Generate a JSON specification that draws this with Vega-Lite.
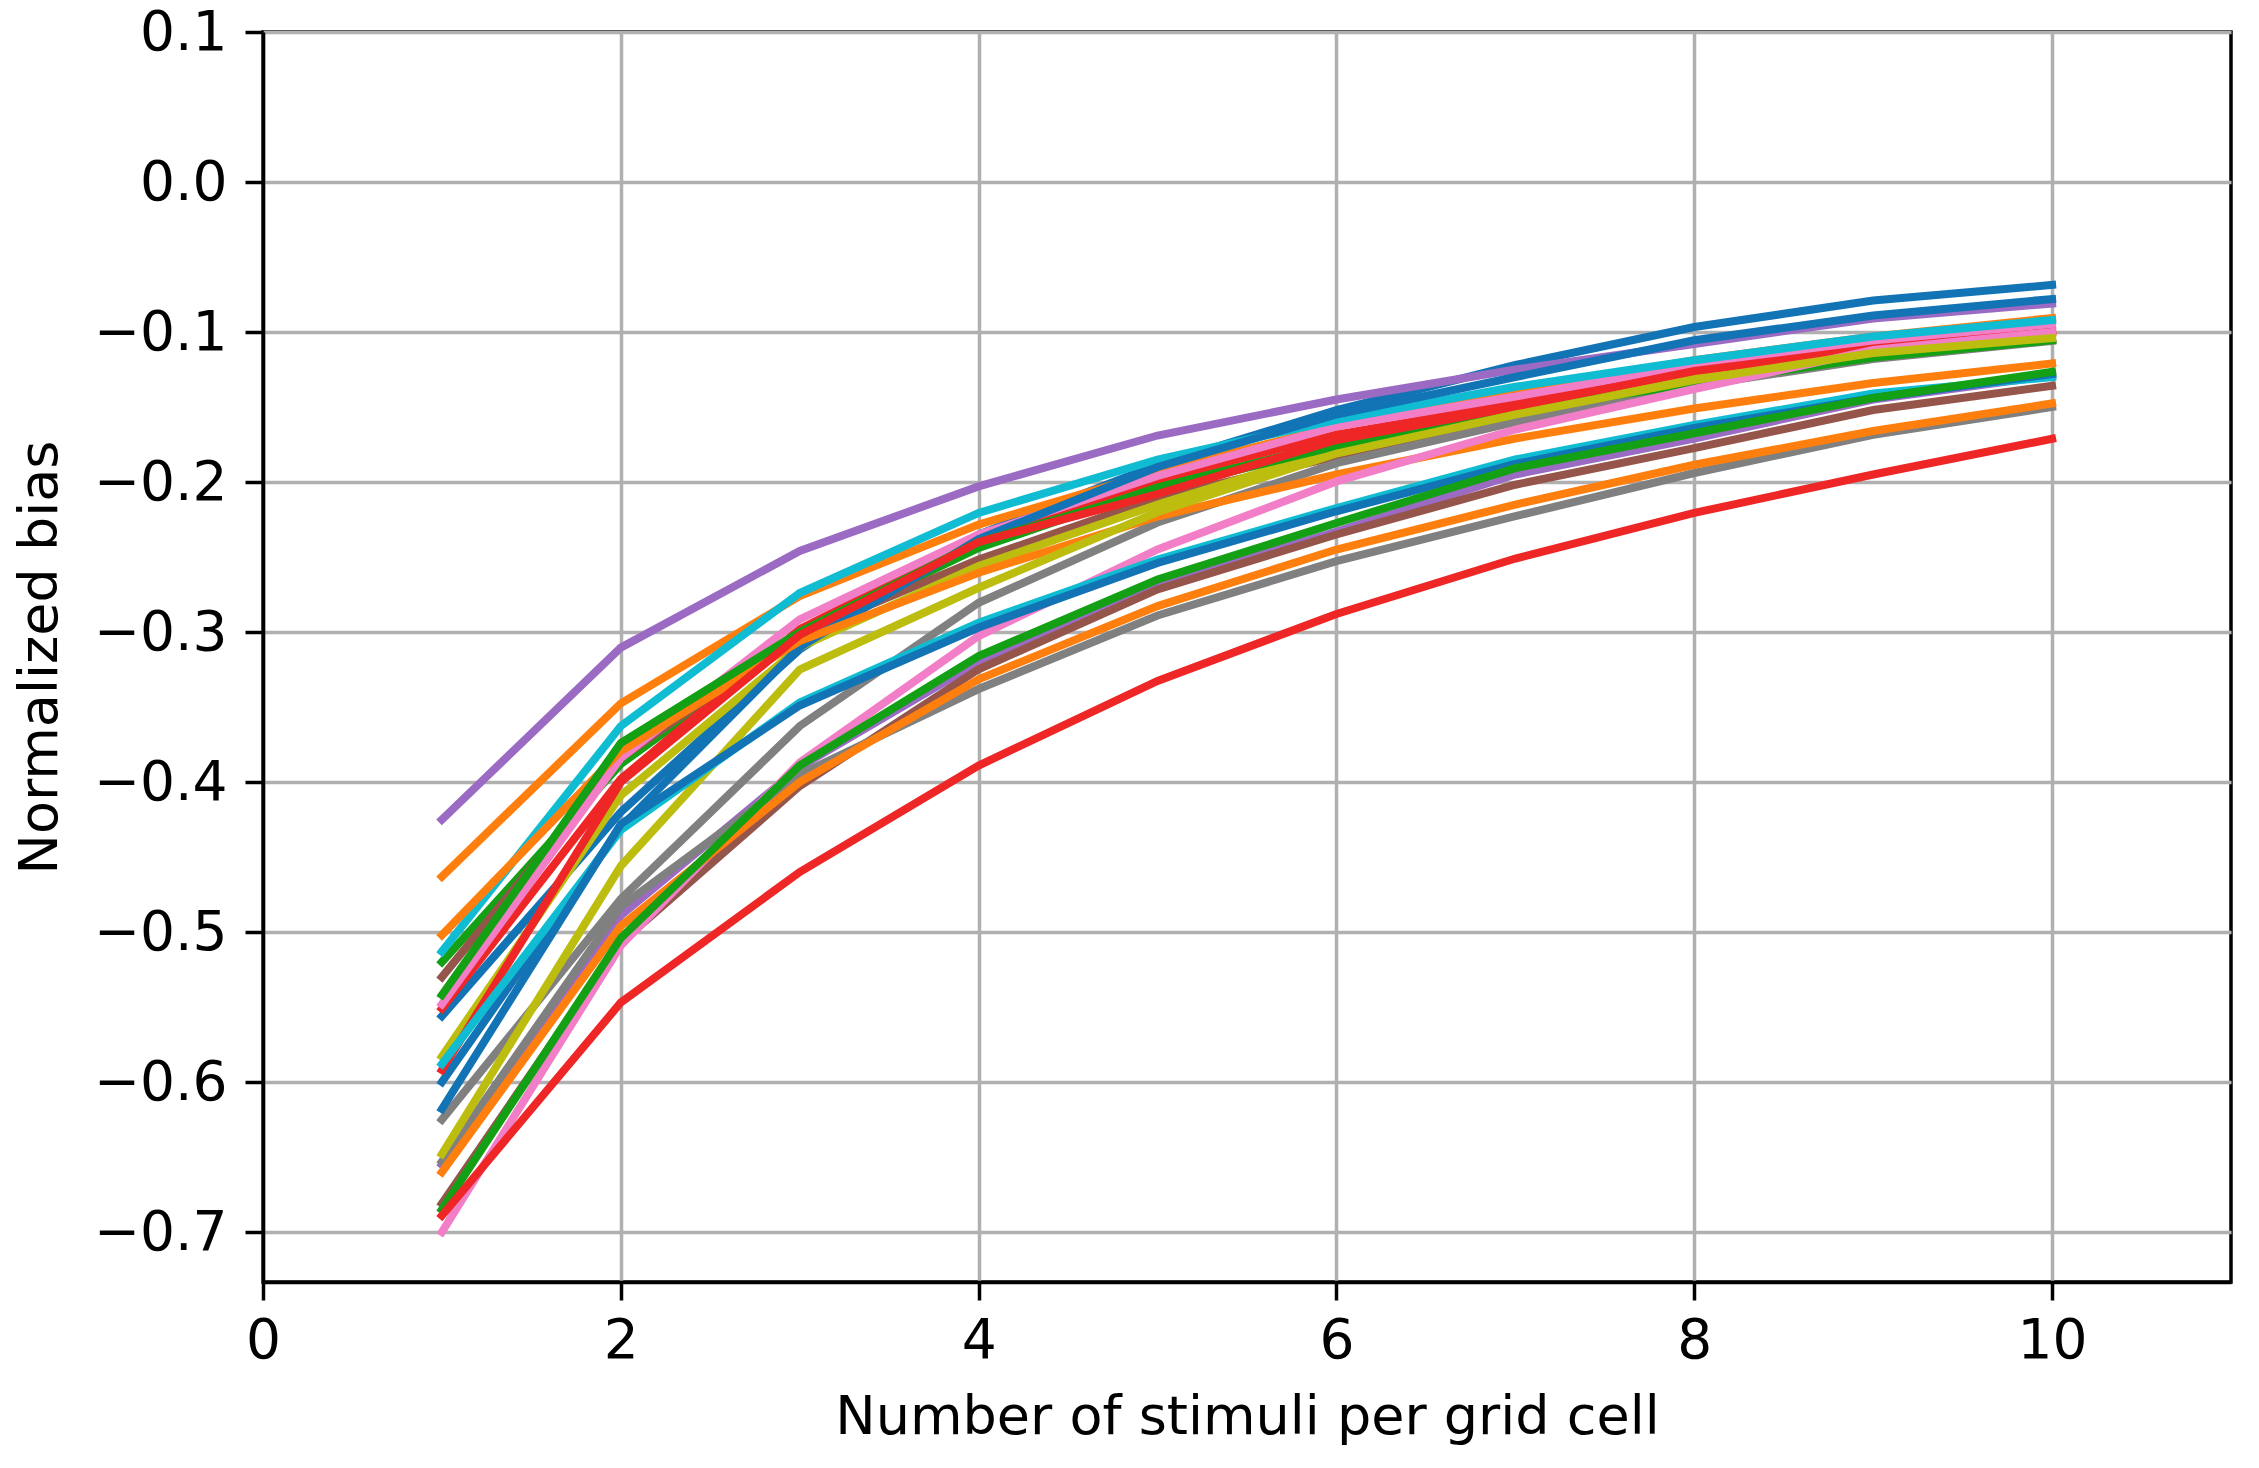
{
  "$schema": "https://vega.github.io/schema/vega-lite/v6.json",
  "width": 1968,
  "height": 1250,
  "autosize": "none",
  "padding": {"left": 263, "top": 32, "right": 28, "bottom": 186},
  "background": "white",
  "data": {"values": [
    {"s":"bA","x":1,"y":-0.556},{"s":"bA","x":2,"y":-0.420},{"s":"bA","x":3,"y":-0.3116},{"s":"bA","x":4,"y":-0.235},{"s":"bA","x":5,"y":-0.1885},{"s":"bA","x":6,"y":-0.152},{"s":"bA","x":7,"y":-0.122},{"s":"bA","x":8,"y":-0.0967},{"s":"bA","x":9,"y":-0.079},{"s":"bA","x":10,"y":-0.0686},
    {"s":"oA","x":1,"y":-0.463},{"s":"oA","x":2,"y":-0.3476},{"s":"oA","x":3,"y":-0.276},{"s":"oA","x":4,"y":-0.2284},{"s":"oA","x":5,"y":-0.193},{"s":"oA","x":6,"y":-0.163},{"s":"oA","x":7,"y":-0.139},{"s":"oA","x":8,"y":-0.1188},{"s":"oA","x":9,"y":-0.103},{"s":"oA","x":10,"y":-0.0907},
    {"s":"gA","x":1,"y":-0.520},{"s":"gA","x":2,"y":-0.388},{"s":"gA","x":3,"y":-0.3016},{"s":"gA","x":4,"y":-0.244},{"s":"gA","x":5,"y":-0.203},{"s":"gA","x":6,"y":-0.174},{"s":"gA","x":7,"y":-0.150},{"s":"gA","x":8,"y":-0.134},{"s":"gA","x":9,"y":-0.1166},{"s":"gA","x":10,"y":-0.105},
    {"s":"rA","x":1,"y":-0.551},{"s":"rA","x":2,"y":-0.398},{"s":"rA","x":3,"y":-0.298},{"s":"rA","x":4,"y":-0.238},{"s":"rA","x":5,"y":-0.198},{"s":"rA","x":6,"y":-0.1685},{"s":"rA","x":7,"y":-0.1476},{"s":"rA","x":8,"y":-0.1243},{"s":"rA","x":9,"y":-0.109},{"s":"rA","x":10,"y":-0.0985},
    {"s":"pA","x":1,"y":-0.425},{"s":"pA","x":2,"y":-0.3104},{"s":"pA","x":3,"y":-0.246},{"s":"pA","x":4,"y":-0.2029},{"s":"pA","x":5,"y":-0.169},{"s":"pA","x":6,"y":-0.145},{"s":"pA","x":7,"y":-0.125},{"s":"pA","x":8,"y":-0.108},{"s":"pA","x":9,"y":-0.091},{"s":"pA","x":10,"y":-0.081},
    {"s":"brA","x":1,"y":-0.530},{"s":"brA","x":2,"y":-0.384},{"s":"brA","x":3,"y":-0.3016},{"s":"brA","x":4,"y":-0.2517},{"s":"brA","x":5,"y":-0.2106},{"s":"brA","x":6,"y":-0.183},{"s":"brA","x":7,"y":-0.1586},{"s":"brA","x":8,"y":-0.134},{"s":"brA","x":9,"y":-0.1166},{"s":"brA","x":10,"y":-0.1051},
    {"s":"piA","x":1,"y":-0.548},{"s":"piA","x":2,"y":-0.384},{"s":"piA","x":3,"y":-0.2916},{"s":"piA","x":4,"y":-0.235},{"s":"piA","x":5,"y":-0.196},{"s":"piA","x":6,"y":-0.163},{"s":"piA","x":7,"y":-0.143},{"s":"piA","x":8,"y":-0.122},{"s":"piA","x":9,"y":-0.1066},{"s":"piA","x":10,"y":-0.0956},
    {"s":"grA","x":1,"y":-0.625},{"s":"grA","x":2,"y":-0.478},{"s":"grA","x":3,"y":-0.3627},{"s":"grA","x":4,"y":-0.2805},{"s":"grA","x":5,"y":-0.227},{"s":"grA","x":6,"y":-0.1874},{"s":"grA","x":7,"y":-0.160},{"s":"grA","x":8,"y":-0.136},{"s":"grA","x":9,"y":-0.118},{"s":"grA","x":10,"y":-0.106},
    {"s":"olA","x":1,"y":-0.583},{"s":"olA","x":2,"y":-0.409},{"s":"olA","x":3,"y":-0.310},{"s":"olA","x":4,"y":-0.256},{"s":"olA","x":5,"y":-0.215},{"s":"olA","x":6,"y":-0.178},{"s":"olA","x":7,"y":-0.152},{"s":"olA","x":8,"y":-0.129},{"s":"olA","x":9,"y":-0.112},{"s":"olA","x":10,"y":-0.1015},
    {"s":"cA","x":1,"y":-0.513},{"s":"cA","x":2,"y":-0.3627},{"s":"cA","x":3,"y":-0.274},{"s":"cA","x":4,"y":-0.2206},{"s":"cA","x":5,"y":-0.185},{"s":"cA","x":6,"y":-0.1585},{"s":"cA","x":7,"y":-0.1365},{"s":"cA","x":8,"y":-0.1188},{"s":"cA","x":9,"y":-0.103},{"s":"cA","x":10,"y":-0.092},
    {"s":"bB","x":1,"y":-0.600},{"s":"bB","x":2,"y":-0.430},{"s":"bB","x":3,"y":-0.310},{"s":"bB","x":4,"y":-0.238},{"s":"bB","x":5,"y":-0.190},{"s":"bB","x":6,"y":-0.155},{"s":"bB","x":7,"y":-0.130},{"s":"bB","x":8,"y":-0.1055},{"s":"bB","x":9,"y":-0.089},{"s":"bB","x":10,"y":-0.078},
    {"s":"oB","x":1,"y":-0.502},{"s":"oB","x":2,"y":-0.3793},{"s":"oB","x":3,"y":-0.306},{"s":"oB","x":4,"y":-0.2605},{"s":"oB","x":5,"y":-0.223},{"s":"oB","x":6,"y":-0.195},{"s":"oB","x":7,"y":-0.171},{"s":"oB","x":8,"y":-0.151},{"s":"oB","x":9,"y":-0.134},{"s":"oB","x":10,"y":-0.121},
    {"s":"gB","x":1,"y":-0.542},{"s":"gB","x":2,"y":-0.374},{"s":"gB","x":3,"y":-0.300},{"s":"gB","x":4,"y":-0.240},{"s":"gB","x":5,"y":-0.205},{"s":"gB","x":6,"y":-0.176},{"s":"gB","x":7,"y":-0.152},{"s":"gB","x":8,"y":-0.1345},{"s":"gB","x":9,"y":-0.117},{"s":"gB","x":10,"y":-0.1055},
    {"s":"rB","x":1,"y":-0.592},{"s":"rB","x":2,"y":-0.400},{"s":"rB","x":3,"y":-0.302},{"s":"rB","x":4,"y":-0.240},{"s":"rB","x":5,"y":-0.208},{"s":"rB","x":6,"y":-0.172},{"s":"rB","x":7,"y":-0.150},{"s":"rB","x":8,"y":-0.126},{"s":"rB","x":9,"y":-0.111},{"s":"rB","x":10,"y":-0.100},
    {"s":"pB","x":1,"y":-0.655},{"s":"pB","x":2,"y":-0.489},{"s":"pB","x":3,"y":-0.390},{"s":"pB","x":4,"y":-0.320},{"s":"pB","x":5,"y":-0.2694},{"s":"pB","x":6,"y":-0.233},{"s":"pB","x":7,"y":-0.195},{"s":"pB","x":8,"y":-0.171},{"s":"pB","x":9,"y":-0.145},{"s":"pB","x":10,"y":-0.129},
    {"s":"brB","x":1,"y":-0.681},{"s":"brB","x":2,"y":-0.507},{"s":"brB","x":3,"y":-0.4027},{"s":"brB","x":4,"y":-0.3248},{"s":"brB","x":5,"y":-0.2716},{"s":"brB","x":6,"y":-0.235},{"s":"brB","x":7,"y":-0.2018},{"s":"brB","x":8,"y":-0.1774},{"s":"brB","x":9,"y":-0.152},{"s":"brB","x":10,"y":-0.1358},
    {"s":"piB","x":1,"y":-0.700},{"s":"piB","x":2,"y":-0.509},{"s":"piB","x":3,"y":-0.387},{"s":"piB","x":4,"y":-0.3027},{"s":"piB","x":5,"y":-0.245},{"s":"piB","x":6,"y":-0.1996},{"s":"piB","x":7,"y":-0.165},{"s":"piB","x":8,"y":-0.138},{"s":"piB","x":9,"y":-0.112},{"s":"piB","x":10,"y":-0.100},
    {"s":"grB","x":1,"y":-0.653},{"s":"grB","x":2,"y":-0.483},{"s":"grB","x":3,"y":-0.395},{"s":"grB","x":4,"y":-0.338},{"s":"grB","x":5,"y":-0.289},{"s":"grB","x":6,"y":-0.2528},{"s":"grB","x":7,"y":-0.2228},{"s":"grB","x":8,"y":-0.194},{"s":"grB","x":9,"y":-0.1686},{"s":"grB","x":10,"y":-0.150},
    {"s":"olB","x":1,"y":-0.648},{"s":"olB","x":2,"y":-0.456},{"s":"olB","x":3,"y":-0.325},{"s":"olB","x":4,"y":-0.2705},{"s":"olB","x":5,"y":-0.220},{"s":"olB","x":6,"y":-0.181},{"s":"olB","x":7,"y":-0.155},{"s":"olB","x":8,"y":-0.132},{"s":"olB","x":9,"y":-0.114},{"s":"olB","x":10,"y":-0.104},
    {"s":"cC","x":1,"y":-0.588},{"s":"cC","x":2,"y":-0.432},{"s":"cC","x":3,"y":-0.347},{"s":"cC","x":4,"y":-0.2938},{"s":"cC","x":5,"y":-0.2517},{"s":"cC","x":6,"y":-0.2173},{"s":"cC","x":7,"y":-0.185},{"s":"cC","x":8,"y":-0.162},{"s":"cC","x":9,"y":-0.141},{"s":"cC","x":10,"y":-0.130},
    {"s":"bC","x":1,"y":-0.618},{"s":"bC","x":2,"y":-0.428},{"s":"bC","x":3,"y":-0.349},{"s":"bC","x":4,"y":-0.297},{"s":"bC","x":5,"y":-0.254},{"s":"bC","x":6,"y":-0.2195},{"s":"bC","x":7,"y":-0.188},{"s":"bC","x":8,"y":-0.164},{"s":"bC","x":9,"y":-0.144},{"s":"bC","x":10,"y":-0.128},
    {"s":"oC","x":1,"y":-0.660},{"s":"oC","x":2,"y":-0.496},{"s":"oC","x":3,"y":-0.400},{"s":"oC","x":4,"y":-0.3315},{"s":"oC","x":5,"y":-0.2827},{"s":"oC","x":6,"y":-0.245},{"s":"oC","x":7,"y":-0.215},{"s":"oC","x":8,"y":-0.1885},{"s":"oC","x":9,"y":-0.166},{"s":"oC","x":10,"y":-0.1476},
    {"s":"gC","x":1,"y":-0.685},{"s":"gC","x":2,"y":-0.504},{"s":"gC","x":3,"y":-0.389},{"s":"gC","x":4,"y":-0.316},{"s":"gC","x":5,"y":-0.265},{"s":"gC","x":6,"y":-0.2273},{"s":"gC","x":7,"y":-0.1907},{"s":"gC","x":8,"y":-0.1675},{"s":"gC","x":9,"y":-0.144},{"s":"gC","x":10,"y":-0.1265},
    {"s":"rC","x":1,"y":-0.689},{"s":"rC","x":2,"y":-0.547},{"s":"rC","x":3,"y":-0.460},{"s":"rC","x":4,"y":-0.389},{"s":"rC","x":5,"y":-0.3326},{"s":"rC","x":6,"y":-0.288},{"s":"rC","x":7,"y":-0.251},{"s":"rC","x":8,"y":-0.2206},{"s":"rC","x":9,"y":-0.195},{"s":"rC","x":10,"y":-0.1712}
  ]},
  "mark": {"type": "line", "strokeWidth": 8, "strokeCap": "square", "clip": true},
  "encoding": {
    "x": {
      "field": "x", "type": "quantitative",
      "scale": {"domain": [0, 11], "nice": false, "zero": false},
      "axis": {"values": [0, 2, 4, 6, 8, 10], "title": "Number of stimuli per grid cell", "labelPadding": 14, "titlePadding": 22, "labelFlush": false}
    },
    "y": {
      "field": "y", "type": "quantitative",
      "scale": {"domain": [-0.7333, 0.1], "nice": false, "zero": false},
      "axis": {"values": [-0.7, -0.6, -0.5, -0.4, -0.3, -0.2, -0.1, 0, 0.1], "labelExpr": "replace(format(datum.value, '.1f'), '-', '\u2212')", "title": "Normalized bias", "labelPadding": 18, "titlePadding": 26, "labelFlush": false}
    },
    "color": {
      "field": "s", "type": "nominal", "legend": null,
      "scale": {
        "domain": ["bA","oA","gA","rA","pA","brA","piA","grA","olA","cA","bB","oB","gB","rB","pB","brB","piB","grB","olB","cC","bC","oC","gC","rC"],
        "range": ["#1273b5","#ff7f0e","#14a014","#ee2626","#9b6bc4","#96554a","#f27ec8","#808080","#bcbd0f","#10bcd2","#1273b5","#ff7f0e","#14a014","#ee2626","#9b6bc4","#96554a","#f27ec8","#808080","#bcbd0f","#10bcd2","#1273b5","#ff7f0e","#14a014","#ee2626"]
      }
    }
  },
  "config": {
    "font": "DejaVu Sans",
    "view": {"stroke": "black", "strokeWidth": 3.5},
    "axis": {
      "labelFont": "DejaVu Sans", "titleFont": "DejaVu Sans",
      "labelFontSize": 55, "titleFontSize": 54, "titleFontWeight": "normal",
      "labelColor": "black", "titleColor": "black",
      "domainColor": "black", "domainWidth": 3.5,
      "tickColor": "black", "tickWidth": 3.5, "tickSize": 18,
      "grid": true, "gridColor": "#b0b0b0", "gridWidth": 3.5
    }
  }
}
